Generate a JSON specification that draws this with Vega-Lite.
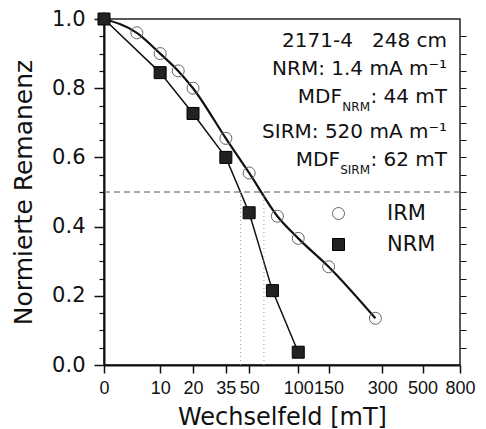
{
  "$schema": "https://vega.github.io/schema/vega-lite/v6.json",
  "autosize": {"type": "none"},
  "padding": {"left": 104, "top": 19, "right": 26, "bottom": 64},
  "width": 356,
  "height": 346,
  "background": "white",
  "config": {
    "view": {"stroke": "#222", "strokeWidth": 1.5},
    "axis": {"labelColor": "#111", "titleColor": "#111", "domainColor": "#111", "tickColor": "#111", "grid": false, "titleFontWeight": "normal"},
    "text": {"font": "DejaVu Sans", "color": "#111"}
  },
  "data": {
    "values": [
      {"series": "IRM", "field": 0, "remanence": 1.0},
      {"series": "IRM", "field": 5, "remanence": 0.96},
      {"series": "IRM", "field": 10, "remanence": 0.90},
      {"series": "IRM", "field": 15, "remanence": 0.85},
      {"series": "IRM", "field": 20, "remanence": 0.80},
      {"series": "IRM", "field": 35, "remanence": 0.655},
      {"series": "IRM", "field": 50, "remanence": 0.555},
      {"series": "IRM", "field": 75, "remanence": 0.43},
      {"series": "IRM", "field": 100, "remanence": 0.366},
      {"series": "IRM", "field": 150, "remanence": 0.284},
      {"series": "IRM", "field": 275, "remanence": 0.135},
      {"series": "NRM", "field": 0, "remanence": 1.0},
      {"series": "NRM", "field": 10, "remanence": 0.845},
      {"series": "NRM", "field": 20, "remanence": 0.727},
      {"series": "NRM", "field": 35, "remanence": 0.60},
      {"series": "NRM", "field": 50, "remanence": 0.44},
      {"series": "NRM", "field": 70, "remanence": 0.215},
      {"series": "NRM", "field": 100, "remanence": 0.037}
    ]
  },
  "resolve": {"axis": {"y": "independent"}},
  "layer": [
    {
      "transform": [{"filter": "datum.series === 'IRM'"}],
      "mark": {"type": "line", "interpolate": "monotone", "color": "#111", "strokeWidth": 2.2},
      "encoding": {
        "x": {"field": "field", "type": "quantitative",
          "scale": {"type": "symlog", "constant": 10, "domain": [0, 800], "nice": false},
          "axis": {"values": [0, 10, 20, 35, 50, 100, 150, 300, 500, 800], "tickCount": 50,
            "labelExpr": "format(datum.value, 'd')",
            "title": "Wechselfeld [mT]", "labelFont": "Liberation Sans", "labelFontSize": 18,
            "labelOverlap": false, "labelSeparation": 0, "labelFlush": false, "labelBound": false, "tickSize": 8, "labelPadding": 6,
            "titleFont": "DejaVu Sans", "titleFontSize": 24, "titlePadding": 8,
            "domainWidth": 2, "tickWidth": 1.5}},
        "y": {"field": "remanence", "type": "quantitative",
          "scale": {"domain": [0, 1], "nice": false},
          "axis": {"orient": "left", "values": [0, 0.2, 0.4, 0.6, 0.8, 1.0], "tickCount": 50, "format": ".1f",
            "title": "Normierte Remanenz", "labelFont": "DejaVu Sans", "labelFontSize": 21,
            "tickSize": 10, "labelPadding": 9, "titleFont": "DejaVu Sans", "titleFontSize": 25,
            "titlePadding": 15, "domainWidth": 2, "tickWidth": 1.5}}
      }
    },
    {
      "transform": [{"filter": "datum.series === 'NRM'"}],
      "mark": {"type": "line", "color": "#111", "strokeWidth": 1.5},
      "encoding": {
        "x": {"field": "field", "type": "quantitative",
          "scale": {"type": "symlog", "constant": 10, "domain": [0, 800], "nice": false}},
        "y": {"field": "remanence", "type": "quantitative",
          "scale": {"domain": [0, 1], "nice": false},
          "axis": {"orient": "left", "values": [0.05, 0.1, 0.15, 0.25, 0.3, 0.35, 0.45, 0.5, 0.55, 0.65, 0.7, 0.75, 0.85, 0.9, 0.95], "tickCount": 50,
            "tickSize": 5, "labels": false, "domain": false, "title": null, "tickWidth": 1.2}}
      }
    },
    {
      "mark": {"type": "point", "opacity": 1, "size": 144, "strokeWidth": 1},
      "encoding": {
        "x": {"field": "field", "type": "quantitative",
          "scale": {"type": "symlog", "constant": 10, "domain": [0, 800], "nice": false}},
        "y": {"field": "remanence", "type": "quantitative",
          "scale": {"domain": [0, 1], "nice": false},
          "axis": {"orient": "right", "values": [0.05, 0.1, 0.15, 0.2, 0.25, 0.3, 0.35, 0.4, 0.45, 0.5, 0.55, 0.6, 0.65, 0.7, 0.75, 0.8, 0.85, 0.9, 0.95], "tickCount": 50,
            "tickSize": 6, "labels": false, "domain": false, "title": null, "tickWidth": 1}},
        "shape": {"field": "series", "type": "nominal",
          "scale": {"domain": ["IRM", "NRM"], "range": ["circle", "square"]},
          "legend": {"orient": "none", "legendX": 224, "legendY": 184, "title": null,
            "labelFont": "DejaVu Sans", "labelFontSize": 21, "labelColor": "#111", "labelOffset": 38,
            "symbolSize": 144, "rowPadding": 9, "padding": 0, "symbolStrokeWidth": 1}},
        "fill": {"field": "series", "type": "nominal",
          "scale": {"domain": ["IRM", "NRM"], "range": ["transparent", "#222"]}},
        "stroke": {"field": "series", "type": "nominal",
          "scale": {"domain": ["IRM", "NRM"], "range": ["#666", "#000"]}}
      }
    },
    {
      "data": {"values": [{}]},
      "mark": {"type": "rule", "color": "#555", "strokeWidth": 1, "strokeDash": [6, 4]},
      "encoding": {
        "y": {"datum": 0.5, "type": "quantitative", "scale": {"domain": [0, 1], "nice": false}, "axis": null}
      }
    },
    {
      "data": {"values": [{}]},
      "mark": {"type": "rule", "color": "#999", "strokeWidth": 1, "strokeDash": [1, 3]},
      "encoding": {
        "x": {"datum": 44, "type": "quantitative", "scale": {"type": "symlog", "constant": 10, "domain": [0, 800], "nice": false}},
        "y": {"datum": 0, "type": "quantitative", "scale": {"domain": [0, 1], "nice": false}, "axis": null},
        "y2": {"datum": 0.5}
      }
    },
    {
      "data": {"values": [{}]},
      "mark": {"type": "rule", "color": "#999", "strokeWidth": 1, "strokeDash": [1, 3]},
      "encoding": {
        "x": {"datum": 62, "type": "quantitative", "scale": {"type": "symlog", "constant": 10, "domain": [0, 800], "nice": false}},
        "y": {"datum": 0, "type": "quantitative", "scale": {"domain": [0, 1], "nice": false}, "axis": null},
        "y2": {"datum": 0.5}
      }
    },
    {
      "data": {"values": [{}]},
      "mark": {"type": "text", "text": "2171-4\u00a0\u00a0\u00a0248 cm", "fontSize": 20, "align": "right", "baseline": "alphabetic", "dx": -13},
      "encoding": {
        "x": {"datum": 800, "type": "quantitative", "scale": {"type": "symlog", "constant": 10, "domain": [0, 800], "nice": false}},
        "y": {"datum": 0.919, "type": "quantitative", "scale": {"domain": [0, 1], "nice": false}, "axis": null}
      }
    },
    {
      "data": {"values": [{}]},
      "mark": {"type": "text", "text": "NRM: 1.4 mA m⁻¹", "fontSize": 20, "align": "right", "baseline": "alphabetic", "dx": -13},
      "encoding": {
        "x": {"datum": 800, "type": "quantitative", "scale": {"type": "symlog", "constant": 10, "domain": [0, 800], "nice": false}},
        "y": {"datum": 0.838, "type": "quantitative", "scale": {"domain": [0, 1], "nice": false}, "axis": null}
      }
    },
    {
      "data": {"values": [{}]},
      "mark": {"type": "text", "text": ": 44 mT", "fontSize": 20, "align": "right", "baseline": "alphabetic", "dx": -13},
      "encoding": {
        "x": {"datum": 800, "type": "quantitative", "scale": {"type": "symlog", "constant": 10, "domain": [0, 800], "nice": false}},
        "y": {"datum": 0.757, "type": "quantitative", "scale": {"domain": [0, 1], "nice": false}, "axis": null}
      }
    },
    {
      "data": {"values": [{}]},
      "mark": {"type": "text", "text": "NRM", "fontSize": 12, "align": "right", "baseline": "alphabetic", "dx": -90},
      "encoding": {
        "x": {"datum": 800, "type": "quantitative", "scale": {"type": "symlog", "constant": 10, "domain": [0, 800], "nice": false}},
        "y": {"datum": 0.734, "type": "quantitative", "scale": {"domain": [0, 1], "nice": false}, "axis": null}
      }
    },
    {
      "data": {"values": [{}]},
      "mark": {"type": "text", "text": "MDF", "fontSize": 20, "align": "right", "baseline": "alphabetic", "dx": -118},
      "encoding": {
        "x": {"datum": 800, "type": "quantitative", "scale": {"type": "symlog", "constant": 10, "domain": [0, 800], "nice": false}},
        "y": {"datum": 0.757, "type": "quantitative", "scale": {"domain": [0, 1], "nice": false}, "axis": null}
      }
    },
    {
      "data": {"values": [{}]},
      "mark": {"type": "text", "text": "SIRM: 520 mA m⁻¹", "fontSize": 20, "align": "right", "baseline": "alphabetic", "dx": -13},
      "encoding": {
        "x": {"datum": 800, "type": "quantitative", "scale": {"type": "symlog", "constant": 10, "domain": [0, 800], "nice": false}},
        "y": {"datum": 0.656, "type": "quantitative", "scale": {"domain": [0, 1], "nice": false}, "axis": null}
      }
    },
    {
      "data": {"values": [{}]},
      "mark": {"type": "text", "text": ": 62 mT", "fontSize": 20, "align": "right", "baseline": "alphabetic", "dx": -13},
      "encoding": {
        "x": {"datum": 800, "type": "quantitative", "scale": {"type": "symlog", "constant": 10, "domain": [0, 800], "nice": false}},
        "y": {"datum": 0.575, "type": "quantitative", "scale": {"domain": [0, 1], "nice": false}, "axis": null}
      }
    },
    {
      "data": {"values": [{}]},
      "mark": {"type": "text", "text": "SIRM", "fontSize": 12, "align": "right", "baseline": "alphabetic", "dx": -90},
      "encoding": {
        "x": {"datum": 800, "type": "quantitative", "scale": {"type": "symlog", "constant": 10, "domain": [0, 800], "nice": false}},
        "y": {"datum": 0.552, "type": "quantitative", "scale": {"domain": [0, 1], "nice": false}, "axis": null}
      }
    },
    {
      "data": {"values": [{}]},
      "mark": {"type": "text", "text": "MDF", "fontSize": 20, "align": "right", "baseline": "alphabetic", "dx": -120},
      "encoding": {
        "x": {"datum": 800, "type": "quantitative", "scale": {"type": "symlog", "constant": 10, "domain": [0, 800], "nice": false}},
        "y": {"datum": 0.575, "type": "quantitative", "scale": {"domain": [0, 1], "nice": false}, "axis": null}
      }
    }
  ]
}
